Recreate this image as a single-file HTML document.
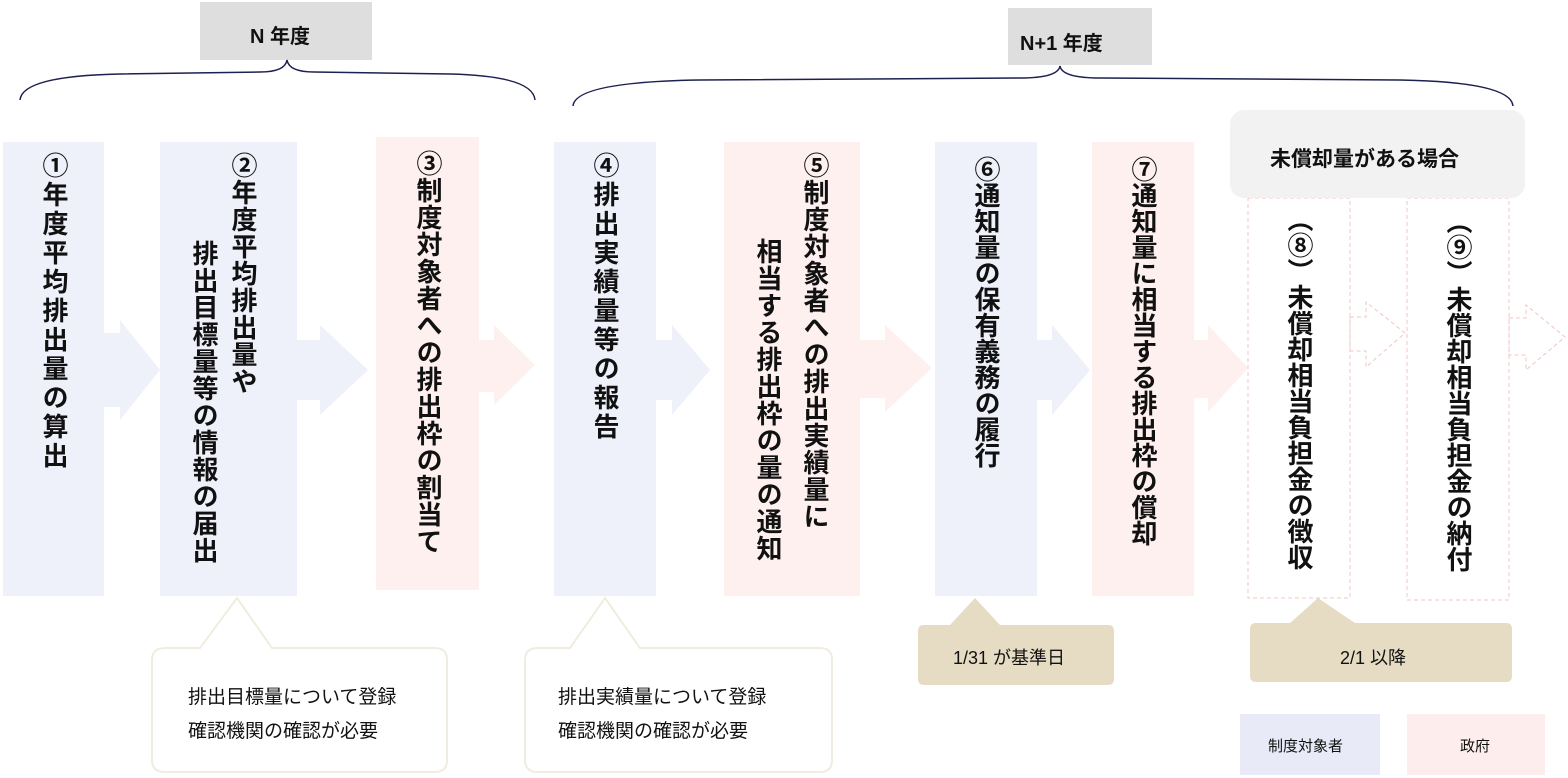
<!DOCTYPE html>
<html><head><meta charset="utf-8"><style>
body{margin:0;width:1568px;height:778px;background:#fff;position:relative;overflow:hidden;font-family:"Liberation Sans","Noto Sans CJK JP",sans-serif;color:#111}
.v{position:absolute;writing-mode:vertical-rl;font-size:26px;font-weight:bold;letter-spacing:1px;line-height:40px;white-space:nowrap}
.t{position:absolute;font-size:19px;white-space:nowrap}
</style></head><body>
<svg width="1568" height="778" style="position:absolute;left:0;top:0">
<rect x="200" y="2" width="172" height="58" fill="#dedede"/>
<rect x="1008" y="8" width="144" height="57" fill="#dedede"/>
<path d="M20 100 Q22 76 120 74 L260 72 Q285 72 287 60 Q289 72 314 72 L450 74 Q533 76 535 100" fill="none" stroke="#1d2050" stroke-width="1.5"/>
<path d="M573 106 Q575 82 700 80 L1020 78 Q1058 78 1060 66 Q1062 78 1100 78 L1400 80 Q1511 82 1513 106" fill="none" stroke="#1d2050" stroke-width="1.5"/>
<g fill="#eef0fa">
<polygon points="104,333 120,333 120,320 160,370 120,420 120,407 104,407"/>
<polygon points="297,340 320,340 320,325 368,370 320,415 320,400 297,400"/>
<polygon points="656,340 672,340 672,325 710,370 672,415 672,400 656,400"/>
<polygon points="1037,340 1052,340 1052,325 1090,370 1052,415 1052,400 1037,400"/>
</g>
<g fill="#fdf0ee">
<polygon points="479,340 494,340 494,325 535,365 494,405 494,392 479,392"/>
<polygon points="860,340 885,340 885,325 932,368 885,412 885,398 860,398"/>
<polygon points="1194,340 1208,340 1208,325 1248,368 1208,412 1208,398 1194,398"/>
</g>
<g fill="none" stroke="#f0c4c4" stroke-width="1" stroke-dasharray="4,3">
<polygon points="1350,317 1366,317 1366,302 1405,333 1366,367 1366,351 1350,351"/>
<polygon points="1509,318 1526,318 1526,305 1565,337 1526,370 1526,355 1509,355"/>
<rect x="1248" y="198" width="102" height="400"/>
<rect x="1407" y="198" width="102" height="402"/>
</g>
<rect x="3" y="142" width="101" height="454" fill="#eef0fa"/>
<rect x="160" y="142" width="137" height="454" fill="#eef0fa"/>
<rect x="376" y="137" width="103" height="453" fill="#fdf0ee"/>
<rect x="554" y="142" width="102" height="454" fill="#eef0fa"/>
<rect x="724" y="142" width="136" height="454" fill="#fdf0ee"/>
<rect x="935" y="142" width="102" height="454" fill="#eef0fa"/>
<rect x="1092" y="142" width="102" height="454" fill="#fdf0ee"/>
<rect x="1230" y="110" width="295" height="88" rx="14" fill="#f2f2f2"/>
<path d="M165 648 L200 648 L237 598 L272 648 L435 648 Q447 648 447 660 L447 760 Q447 772 435 772 L165 772 Q152 772 152 760 L152 660 Q152 648 165 648Z" fill="#fff" stroke="#f0ede0" stroke-width="2"/>
<path d="M538 648 L570 648 L605 598 L640 648 L820 648 Q832 648 832 660 L832 760 Q832 772 820 772 L538 772 Q525 772 525 760 L525 660 Q525 648 538 648Z" fill="#fff" stroke="#f0ede0" stroke-width="2"/>
<path d="M924 625 L950 625 L975 598 L1000 625 L1108 625 Q1114 625 1114 631 L1114 679 Q1114 685 1108 685 L924 685 Q918 685 918 679 L918 631 Q918 625 924 625Z" fill="#e6dcc4"/>
<path d="M1256 623 L1290 623 L1318 598 L1355 623 L1506 623 Q1512 623 1512 629 L1512 676 Q1512 682 1506 682 L1256 682 Q1250 682 1250 676 L1250 629 Q1250 623 1256 623Z" fill="#e6dcc4"/>
<rect x="1240" y="714" width="140" height="61" fill="#e8ebf7"/>
<rect x="1407" y="714" width="138" height="61" fill="#fdeeed"/>
</svg>
<div class="t" style="left:250px;top:20px;font-weight:bold;font-size:20px">N 年度</div>
<div class="t" style="left:1020px;top:27px;font-weight:bold;font-size:20px">N+1 年度</div>
<div class="v" style="left:34px;top:152px;letter-spacing:3px">①年度平均排出量の算出</div>
<div class="v" style="left:223px;top:152px">②年度平均排出量や</div>
<div class="v" style="left:184px;top:240px">排出目標量等の情報の届出</div>
<div class="v" style="left:408px;top:150px">③制度対象者への排出枠の割当て</div>
<div class="v" style="left:585px;top:152px;letter-spacing:3px">④排出実績量等の報告</div>
<div class="v" style="left:795px;top:152px">⑤制度対象者への排出実績量に</div>
<div class="v" style="left:748px;top:238px">相当する排出枠の量の通知</div>
<div class="v" style="left:966px;top:156px;letter-spacing:0">⑥通知量の保有義務の履行</div>
<div class="v" style="left:1123px;top:156px;letter-spacing:0">⑦通知量に相当する排出枠の償却</div>
<div class="v" style="left:1279px;top:206px;letter-spacing:0">（⑧）未償却相当負担金の徴収</div>
<div class="v" style="left:1438px;top:208px;letter-spacing:0">（⑨）未償却相当負担金の納付</div>
<div class="t" style="left:1270px;top:143px;font-size:21px;font-weight:bold">未償却量がある場合</div>
<div class="t" style="left:188px;top:682px">排出目標量について登録</div>
<div class="t" style="left:188px;top:716px">確認機関の確認が必要</div>
<div class="t" style="left:558px;top:682px">排出実績量について登録</div>
<div class="t" style="left:558px;top:716px">確認機関の確認が必要</div>
<div class="t" style="left:953px;top:644px;font-size:18px">1/31 が基準日</div>
<div class="t" style="left:1340px;top:644px;font-size:18px">2/1 以降</div>
<div class="t" style="left:1268px;top:735px;font-size:15px">制度対象者</div>
<div class="t" style="left:1460px;top:735px;font-size:15px">政府</div>
</body></html>
